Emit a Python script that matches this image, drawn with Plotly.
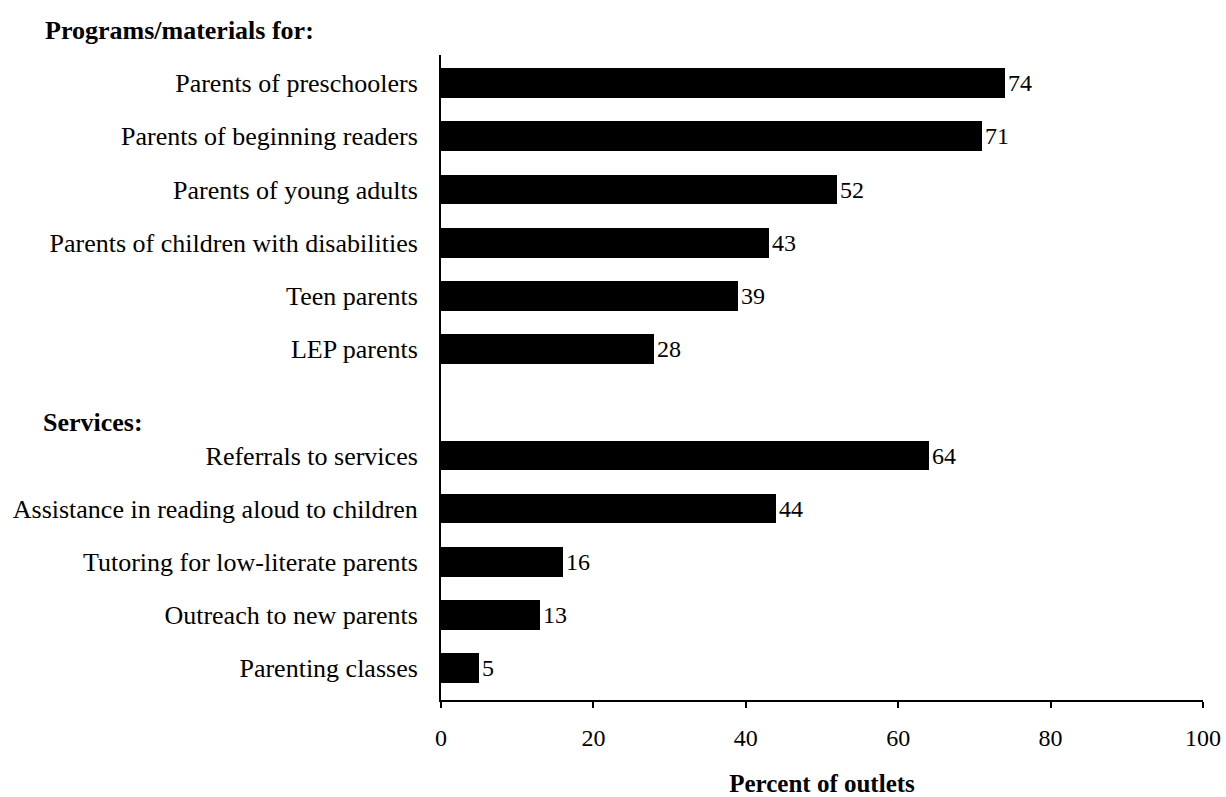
import plotly.graph_objects as go

# Survey categories, top to bottom (blank slot separates the two groups)
programs = [
    "Parents of preschoolers",
    "Parents of beginning readers",
    "Parents of young adults",
    "Parents of children with disabilities",
    "Teen parents",
    "LEP parents",
]
program_values = [74, 71, 52, 43, 39, 28]

services = [
    "Referrals to services",
    "Assistance in reading aloud to children",
    "Tutoring for low-literate parents",
    "Outreach to new parents",
    "Parenting classes",
]
service_values = [64, 44, 16, 13, 5]

x_ticks = [0, 20, 40, 60, 80, 100]

labels = programs + services
values = program_values + service_values
# row slots: programs 0-5, gap at 6, services 7-11
slots = list(range(len(programs))) + [len(programs) + 1 + i for i in range(len(services))]

FONT = "Liberation Serif, Times New Roman, serif"
SIZE = 24
LABEL_SIZE = 26
HEAD_SIZE = 26

fig = go.Figure(
    go.Bar(
        x=values,
        y=slots,
        orientation="h",
        width=0.56,
        marker=dict(color="black", line=dict(width=0)),
        text=[str(v) for v in values],
        textposition="outside",
        cliponaxis=False,
        textfont=dict(family=FONT, size=SIZE, color="black"),
    )
)

fig.update_layout(
    width=1226,
    height=797,
    margin=dict(l=441, r=23, t=55, b=97, autoexpand=False),
    paper_bgcolor="white",
    plot_bgcolor="white",
    showlegend=False,
    font=dict(family=FONT, size=SIZE, color="black"),
    bargap=0,
)

fig.update_xaxes(
    range=[0, 100],
    tickvals=x_ticks,
    ticktext=[str(t) for t in x_ticks],
    showline=True,
    linecolor="black",
    linewidth=2,
    ticks="outside",
    ticklen=6,
    tickwidth=2,
    tickcolor="black",
    showgrid=False,
    zeroline=False,
    automargin=False,
    ticklabelstandoff=9,
    tickfont=dict(family=FONT, size=SIZE, color="black"),
    title=dict(
        text="<b>Percent of outlets</b>",
        font=dict(family=FONT, size=25, color="black"),
        standoff=25,
    ),
)

fig.update_yaxes(
    range=[11.6, -0.53],
    tickvals=slots,
    ticktext=labels,
    showline=True,
    linecolor="black",
    linewidth=2,
    ticks="",
    showgrid=False,
    zeroline=False,
    automargin=False,
    ticklabelstandoff=16,
    tickfont=dict(family=FONT, size=LABEL_SIZE, color="black"),
)

# Group headings
fig.add_annotation(
    x=0, xref="paper", xshift=-398, y=1, yref="paper", yshift=25,
    text="<b>Programs/materials for:</b>", showarrow=False,
    xanchor="left", yanchor="middle",
    font=dict(family=FONT, size=HEAD_SIZE, color="black"),
)
fig.add_annotation(
    x=0, xref="paper", xshift=-400, y=6.38, yref="y",
    text="<b>Services:</b>", showarrow=False,
    xanchor="left", yanchor="middle",
    font=dict(family=FONT, size=HEAD_SIZE, color="black"),
)

fig.write_html("out.html")
